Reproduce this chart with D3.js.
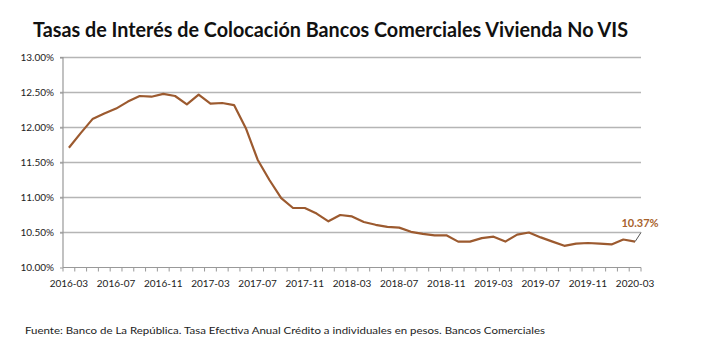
<!DOCTYPE html>
<html>
<head>
<meta charset="utf-8">
<script src="https://cdn.jsdelivr.net/npm/d3@7"></script>
<style>
  html, body { margin: 0; padding: 0; background: #fff; }
  svg { display: block; }
  text { font-family: Lato, "Open Sans", sans-serif; }
</style>
</head>
<body>
<svg id="chart" width="715" height="355"></svg>
<script>
const categories = [
  "2016-03","2016-04","2016-05","2016-06","2016-07","2016-08","2016-09","2016-10","2016-11","2016-12",
  "2017-01","2017-02","2017-03","2017-04","2017-05","2017-06","2017-07","2017-08","2017-09","2017-10",
  "2017-11","2017-12","2018-01","2018-02","2018-03","2018-04","2018-05","2018-06","2018-07","2018-08",
  "2018-09","2018-10","2018-11","2018-12","2019-01","2019-02","2019-03","2019-04","2019-05","2019-06",
  "2019-07","2019-08","2019-09","2019-10","2019-11","2019-12","2020-01","2020-02","2020-03"
];
const rates = [
  11.71, 11.92, 12.12, 12.20, 12.27, 12.37, 12.45, 12.44, 12.48, 12.45,
  12.33, 12.47, 12.34, 12.35, 12.32, 11.99, 11.54, 11.25, 10.99, 10.85,
  10.85, 10.77, 10.66, 10.75, 10.73, 10.65, 10.61, 10.58, 10.57, 10.51,
  10.48, 10.46, 10.46, 10.37, 10.37, 10.42, 10.44, 10.37, 10.47, 10.50,
  10.43, 10.37, 10.31, 10.34, 10.35, 10.34, 10.33, 10.40, 10.37
];
const xTickLabels = ["2016-03","2016-07","2016-11","2017-03","2017-07","2017-11","2018-03","2018-07","2018-11","2019-03","2019-07","2019-11","2020-03"];
const yTicks = [10.0, 10.5, 11.0, 11.5, 12.0, 12.5, 13.0];
const titleText = "Tasas de Interés de Colocación Bancos Comerciales Vivienda No VIS";
const sourceText = "Fuente: Banco de La República.  Tasa Efectiva Anual Crédito  a individuales en pesos. Bancos  Comerciales";

const svg = d3.select("#chart");
const pLeft = 63, pRight = 641, pTop = 57.5, pBottom = 267.5;

const x = d3.scaleBand().domain(categories).range([pLeft, pRight]).paddingInner(0).paddingOuter(0);
const y = d3.scaleLinear().domain([10, 13]).range([pBottom, pTop]);
const fmt = d3.format(".2%");

// title
svg.append("text")
  .attr("x", 33).attr("y", 37)
  .attr("font-size", 20).attr("font-weight", 700).attr("fill", "#111")
  .attr("textLength", 595).attr("lengthAdjust", "spacingAndGlyphs")
  .text(titleText);

// gridlines
svg.append("g").selectAll("line").data(yTicks.filter(d => d > 10)).join("line")
  .attr("x1", pLeft - 3).attr("x2", pRight)
  .attr("y1", d => y(d)).attr("y2", d => y(d))
  .attr("stroke", "#b5b5b5").attr("stroke-width", 1.5);

// y axis
const yAxis = d3.axisLeft(y).tickValues(yTicks).tickSize(3).tickPadding(6).tickFormat(d => fmt(d / 100));
const gy = svg.append("g").attr("transform", `translate(${pLeft},0)`).call(yAxis);
gy.select(".domain").attr("stroke", "#999").attr("stroke-width", 1.2).attr("d", `M-3,${pTop}H0V${pBottom}`);
gy.selectAll(".tick line").attr("stroke", "#999");
gy.selectAll(".tick text").attr("font-size", 10).attr("fill", "#222").attr("font-family", "Lato, sans-serif");

// x axis line + ticks at category boundaries
const gx = svg.append("g");
gx.append("line").attr("x1", pLeft).attr("x2", pRight).attr("y1", pBottom).attr("y2", pBottom)
  .attr("stroke", "#999").attr("stroke-width", 1.2);
const boundaries = categories.map(c => x(c)).concat([x(categories[categories.length - 1]) + x.bandwidth()]);
gx.selectAll("line.tk").data(boundaries).join("line").attr("class", "tk")
  .attr("x1", d => d).attr("x2", d => d).attr("y1", pBottom).attr("y2", pBottom + 4)
  .attr("stroke", "#999").attr("stroke-width", 1);
gx.selectAll("text").data(xTickLabels).join("text")
  .attr("x", d => x(d) + x.bandwidth() / 2).attr("y", 287)
  .attr("text-anchor", "middle").attr("font-size", 10).attr("fill", "#222")
  .text(d => d);

// line
const line = d3.line()
  .x((d, i) => x(categories[i]) + x.bandwidth() / 2)
  .y(d => y(d));
svg.append("path").datum(rates)
  .attr("d", line).attr("fill", "none")
  .attr("stroke", "#9c5a2f").attr("stroke-width", 2.2)
  .attr("stroke-linejoin", "round");

// end label with leader
const lastI = rates.length - 1;
const lx = x(categories[lastI]) + x.bandwidth() / 2;
const ly = y(rates[lastI]);
svg.append("line").attr("x1", lx).attr("y1", ly).attr("x2", pRight).attr("y2", y(10.5))
  .attr("stroke", "#555").attr("stroke-width", 1);
svg.append("text").attr("x", 640).attr("y", 227)
  .attr("text-anchor", "middle").attr("font-size", 11).attr("font-weight", 700)
  .attr("fill", "#a8622c").text(fmt(rates[lastI] / 100));

// source
svg.append("text").attr("x", 25).attr("y", 334)
  .attr("font-size", 10).attr("fill", "#222")
  .attr("textLength", 520).attr("lengthAdjust", "spacingAndGlyphs")
  .text(sourceText);
</script>
</body>
</html>
